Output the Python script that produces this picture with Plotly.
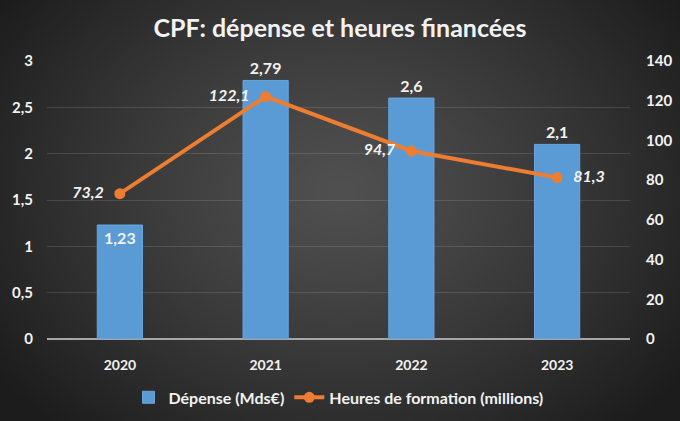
import base64, struct, zlib
import numpy as np
import plotly.graph_objects as go

years = ["2020", "2021", "2022", "2023"]
depense = [1.23, 2.79, 2.6, 2.1]
heures = [73.2, 122.1, 94.7, 81.3]
depense_labels = ["1,23", "2,79", "2,6", "2,1"]
heures_labels = ["73,2", "122,1", "94,7", "81,3"]
left_ticks = [0, 0.5, 1, 1.5, 2, 2.5, 3]
left_ticktext = ["0", "0,5", "1", "1,5", "2", "2,5", "3"]
right_ticks = [0, 20, 40, 60, 80, 100, 120, 140]

W, H = 680, 421
ML, MR, MT, MB = 47, 50, 61, 82
PW, PH = W - ML - MR, H - MT - MB


def png_uri(arr):
    h, w, _ = arr.shape
    raw = b"".join(b"\x00" + arr[i].tobytes() for i in range(h))

    def chunk(t, d):
        c = struct.pack(">I", len(d)) + t + d
        return c + struct.pack(">I", zlib.crc32(t + d) & 0xFFFFFFFF)

    png = b"\x89PNG\r\n\x1a\n" + chunk(b"IHDR", struct.pack(">IIBBBBB", w, h, 8, 2, 0, 0, 0))
    png += chunk(b"IDAT", zlib.compress(raw, 9)) + chunk(b"IEND", b"")
    return "data:image/png;base64," + base64.b64encode(png).decode()


# radial gray background
gw, gh = 340, 210
yy, xx = np.mgrid[0:gh, 0:gw]
cx, cy = gw * 0.5, gh * 0.45
d = np.sqrt(((xx - cx) / (gw * 0.62)) ** 2 + ((yy - cy) / (gh * 0.78)) ** 2)
d = np.clip(d, 0, 1)
val = 80 - (80 - 28) * d ** 1.2
bg = np.repeat(val[:, :, None], 3, axis=2).astype(np.uint8)

FONT = "Lato"
WHITE = "#f2f2f2"

fig = go.Figure()
fig.add_trace(go.Bar(
    x=years, y=depense, name="<b>Dépense (Mds€)</b>",
    marker=dict(color="#5b9bd5", line=dict(color="#6aa6de", width=1)),
    width=0.31,
    text=["<b>" + t + "</b>" for t in depense_labels],
    textposition=["inside", "outside", "outside", "outside"],
    insidetextanchor="end",
    textfont=dict(family=FONT, size=16, color=WHITE),
    cliponaxis=False,
    hoverinfo="skip",
))
fig.add_trace(go.Scatter(
    x=years, y=heures, name="<b>Heures de formation (millions)</b>", yaxis="y2",
    mode="lines+markers+text",
    line=dict(color="#ed7d31", width=4),
    marker=dict(color="#ed7d31", size=11),
    text=["<b><i>" + t + "</i></b>  " if i < 3 else "  <b><i>" + t + "</i></b>"
          for i, t in enumerate(heures_labels)],
    textposition=["middle left", "middle left", "middle left", "middle right"],
    textfont=dict(family=FONT, size=16, color=WHITE),
    cliponaxis=False,
))

fig.update_layout(
    width=W, height=H,
    margin=dict(l=ML, r=MR, t=MT, b=MB, autoexpand=False),
    paper_bgcolor="#333333",
    plot_bgcolor="rgba(0,0,0,0)",
    font=dict(family=FONT, size=14, color=WHITE),
    title=dict(text="<b>CPF: dépense et heures financées</b>", x=0.5, xanchor="center",
               y=0.932, yanchor="middle", font=dict(family=FONT, size=25, color=WHITE)),
    showlegend=True,
    legend=dict(orientation="h", x=0.5, xanchor="center", y=-0.21, yanchor="middle",
                font=dict(family=FONT, size=16, color=WHITE), bgcolor="rgba(0,0,0,0)",
                itemwidth=30),
    bargap=0.69,
    images=[dict(source=png_uri(bg), xref="paper", yref="paper",
                 x=-ML / PW, y=1 + MT / PH, sizex=W / PW, sizey=H / PH,
                 xanchor="left", yanchor="top", sizing="stretch", layer="below")],
    xaxis=dict(
        type="category",
        tickfont=dict(family=FONT, size=14, color=WHITE),
        tickprefix="<b>", ticksuffix="</b>",
        showgrid=False, showline=False, zeroline=False, ticks="outside",
        ticklen=13, tickcolor="rgba(0,0,0,0)",
    ),
    yaxis=dict(
        range=[0, 3], tickvals=left_ticks,
        ticktext=["<b>" + t + "</b>" for t in left_ticktext],
        tickfont=dict(family=FONT, size=15, color=WHITE),
        gridcolor="rgba(255,255,255,0.12)", gridwidth=1,
        zeroline=True, zerolinecolor="#a6a6a6", zerolinewidth=2,
        showline=False, ticks="outside", ticklen=10, tickcolor="rgba(0,0,0,0)",
    ),
    yaxis2=dict(
        range=[0, 140], tickvals=right_ticks,
        ticktext=["<b>%d</b>" % t for t in right_ticks],
        tickfont=dict(family=FONT, size=15, color=WHITE),
        overlaying="y", side="right", showgrid=False, zeroline=False,
        showline=False, ticks="outside", ticklen=12, tickcolor="rgba(0,0,0,0)",
    ),
)

fig.write_html("out.html")
